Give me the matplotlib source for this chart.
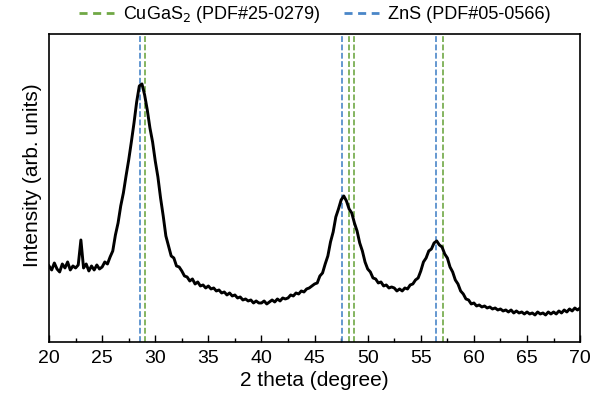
import numpy as np
import matplotlib
matplotlib.use("Agg")
import matplotlib.pyplot as plt
from matplotlib.ticker import MultipleLocator
from matplotlib.lines import Line2D

plt.rcParams['font.family'] = ['Liberation Sans', 'DejaVu Sans']

# XRD scan, 0.25 degree step (arb. units)
two_theta = np.arange(20, 70.001, 0.25)
intensity = [
    76, 72, 79, 73, 70, 78, 74, 80, 72, 76,
    74, 77, 102, 74, 78, 71, 76, 72, 77, 73,
    75, 80, 78, 85, 91, 107, 119, 136, 149, 166,
    182, 200, 219, 240, 256, 258, 247, 232, 214, 200,
    181, 165, 144, 126, 106, 96, 86, 84, 76, 75,
    71, 66, 65, 61, 63, 58, 60, 56, 57, 54,
    56, 53, 54, 51, 52, 49, 50, 47, 49, 46,
    47, 44, 45, 42, 43, 41, 42, 39, 41, 39,
    39, 41, 38, 40, 42, 40, 43, 41, 44, 43,
    44, 47, 46, 49, 48, 51, 50, 53, 54, 56,
    58, 59, 66, 69, 78, 86, 100, 110, 125, 133,
    142, 146, 141, 133, 129, 119, 111, 99, 91, 80,
    73, 70, 64, 63, 59, 60, 56, 57, 54, 55,
    54, 51, 53, 51, 54, 53, 57, 58, 62, 64,
    71, 80, 84, 91, 93, 99, 101, 97, 95, 88,
    84, 75, 70, 62, 58, 51, 48, 43, 42, 38,
    39, 36, 37, 35, 36, 34, 35, 33, 34, 32,
    33, 31, 32, 30, 32, 29, 31, 29, 30, 28,
    30, 28, 29, 27, 30, 28, 29, 27, 30, 28,
    30, 28, 31, 29, 32, 30, 33, 31, 34, 32,
    34,
]

# reference peak positions
cugas2_peaks = [29.0, 48.2, 48.7, 57.1]
zns_peaks = [28.6, 47.6, 56.4]
cugas2_label = 'CuGaS$_2$ (PDF#25-0279)'
zns_label = 'ZnS (PDF#05-0566)'

green = '#70a845'
blue = '#4a86c8'

fig = plt.figure(figsize=(5.95, 4.04), dpi=100)
ax = fig.add_axes([0.0824, 0.1535, 0.8926, 0.7625])

ax.plot(two_theta, intensity, color='black', lw=2.1, zorder=3)

for p in cugas2_peaks:
    ax.axvline(p, color=green, lw=1.2, ls=(0, (3.5, 1.5)), zorder=2)
for p in zns_peaks:
    ax.axvline(p, color=blue, lw=1.2, ls=(0, (3.5, 1.5)), zorder=2)

ax.set_xlim(20, 70)
ax.set_ylim(0, 308)
ax.xaxis.set_major_locator(MultipleLocator(5))
ax.xaxis.set_minor_locator(MultipleLocator(2.5))
ax.set_yticks([])
ax.tick_params(axis='x', which='both', direction='in', labelsize=14, pad=6)
ax.tick_params(axis='x', which='major', length=5, width=1)
ax.tick_params(axis='x', which='minor', length=3, width=1)
for s in ax.spines.values():
    s.set_linewidth(1.2)

ax.set_xlabel('2 theta (degree)', fontsize=15, labelpad=3)
ax.set_ylabel('Intensity (arb. units)', fontsize=15)
ax.yaxis.set_label_coords(-0.014, 0.542)

handles = [
    Line2D([], [], color=green, lw=2, ls=(0, (2.9, 2))),
    Line2D([], [], color=blue, lw=2, ls=(0, (2.9, 2))),
]
fig.legend(handles, [cugas2_label, zns_label], loc='center',
           bbox_to_anchor=(0.529, 0.963), ncol=2, frameon=False,
           fontsize=13, handlelength=1.95, handletextpad=0.5,
           columnspacing=1.3, borderpad=0, borderaxespad=0)

fig.savefig('out.png', dpi=100)
